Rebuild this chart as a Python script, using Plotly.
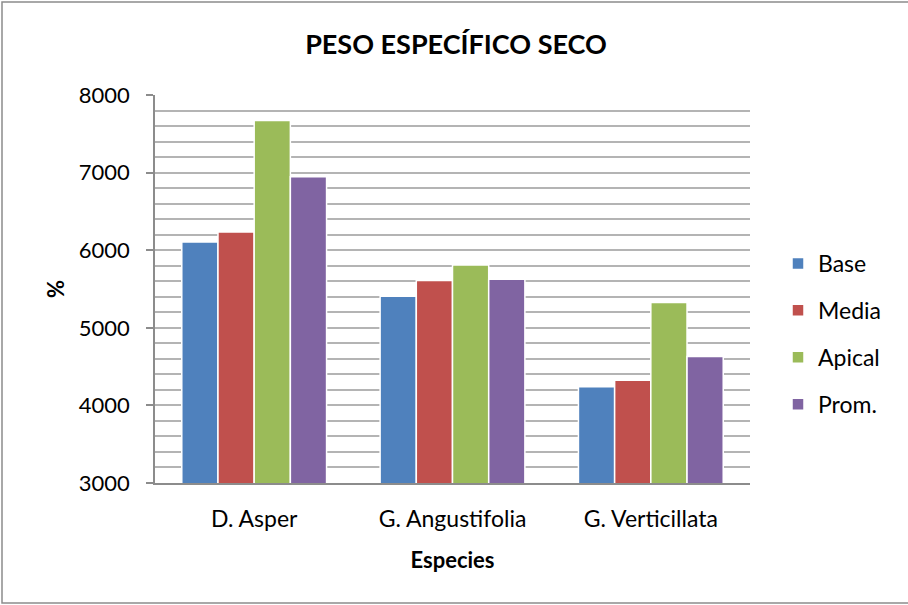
import plotly.graph_objects as go

categories = ["D. Asper", "G. Angustifolia", "G. Verticillata"]
series_names = ["Base", "Media", "Apical", "Prom."]
base = [6105, 5405, 4240]
media = [6235, 5610, 4325]
apical = [7670, 5810, 5325]
prom = [6945, 5625, 4630]
colors = ["#4F81BD", "#C0504D", "#9BBB59", "#8064A2"]

FONT = "Lato"
fig = go.Figure()
for i, (name, vals) in enumerate(zip(series_names, [base, media, apical, prom])):
    fig.add_trace(go.Bar(
        x=categories, y=vals, name=name, legendgroup=name,
        marker=dict(color=colors[i], line=dict(color="white", width=1.5)),
    ))

W, H = 908, 605
L, R, T, B = 155, 158, 95, 122
pw, ph = W - L - R, H - T - B

fig.update_layout(
    width=W, height=H,
    margin=dict(l=L, r=R, t=T, b=B),
    paper_bgcolor="white", plot_bgcolor="white",
    barmode="group", bargap=0.27, bargroupgap=0,
    font=dict(family=FONT, size=22, color="black"),
    title=dict(text="<b>PESO ESPECÍFICO SECO</b>", x=(456 - L) / pw, xref="paper",
               xanchor="center", y=1 - 45 / H, yanchor="middle",
               font=dict(family=FONT, size=27, color="black")),
    legend=dict(x=(778 - L) / pw, xanchor="left", y=1 - (264 - T - 22) / ph, yanchor="top",
                font=dict(family=FONT, size=23), tracegroupgap=14,
                bgcolor="rgba(0,0,0,0)"),
    showlegend=True,
)
fig.update_yaxes(
    range=[3000, 8000], dtick=1000, tick0=3000,
    showline=True, linecolor="#8c8c8c", linewidth=1.5,
    ticks="outside", ticklen=7, tickcolor="#8c8c8c", tickwidth=1.5,
    showgrid=True, gridcolor="#b4b4b4", gridwidth=1.5,
    minor=dict(dtick=200, showgrid=True, gridcolor="#b4b4b4", gridwidth=1.5),
    zeroline=False, ticklabelstandoff=12,
    tickfont=dict(family=FONT, size=22),
    title=dict(text="<b>%</b>", font=dict(family=FONT, size=22), standoff=8),
)
fig.update_xaxes(
    showline=True, linecolor="#8c8c8c", linewidth=2,
    ticks="", tickfont=dict(family=FONT, size=23), ticklabelstandoff=14,
    title=dict(text="<b>Especies</b>", font=dict(family=FONT, size=22), standoff=22),
)
# outer chart border
fig.add_shape(type="rect", xref="paper", yref="paper",
              x0=(2 - L) / pw, x1=(W + 20 - L) / pw,
              y0=-(H - 2 - T - ph) / ph, y1=1 + (T - 2) / ph,
              line=dict(color="#8c8c8c", width=1.5), fillcolor="rgba(0,0,0,0)", layer="below")
fig.write_html("out.html")
